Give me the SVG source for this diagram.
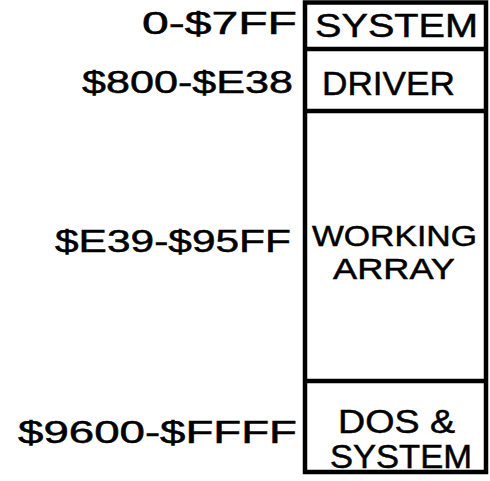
<svg xmlns="http://www.w3.org/2000/svg" width="490" height="481" viewBox="0 0 490 481">
<style>
.lbl{font-family:"Liberation Sans",Arial,sans-serif;font-size:31px;fill:#000;stroke:#000;stroke-width:0.5;text-anchor:end}
.box{font-family:"Liberation Sans",Arial,sans-serif;font-size:33px;fill:#000;stroke:#000;stroke-width:0.5}
.box2{font-size:30px}
.frame{fill:#fff;stroke:#000;stroke-width:4.5}
.sep{stroke:#000;stroke-width:4.5;fill:none}
</style>
<rect width="490" height="481" fill="#fff"/>
<g id="memory-frame">
<rect class="frame" x="305" y="2.5" width="181" height="469.5"/>
</g>
<g id="connectors">
<line class="sep" x1="305" y1="49" x2="486" y2="49"/>
<line class="sep" x1="305" y1="111" x2="486" y2="111"/>
<line class="sep" x1="305" y1="381" x2="486" y2="381"/>
</g>
<g id="node-system">
<text class="lbl" x="297" y="34" textLength="155" lengthAdjust="spacingAndGlyphs">0-$7FF</text>
<text class="box" x="315" y="37" textLength="163" lengthAdjust="spacingAndGlyphs">SYSTEM</text>
</g>
<g id="node-driver">
<text class="lbl" x="293" y="93" textLength="211" lengthAdjust="spacingAndGlyphs">$800-$E38</text>
<text class="box" x="322" y="95" textLength="133" lengthAdjust="spacingAndGlyphs">DRIVER</text>
</g>
<g id="node-working">
<text class="lbl" x="291" y="252" textLength="236" lengthAdjust="spacingAndGlyphs">$E39-$95FF</text>
<text class="box box2" x="312" y="246" textLength="165" lengthAdjust="spacingAndGlyphs">WORKING</text>
<text class="box box2" x="333" y="279" textLength="122" lengthAdjust="spacingAndGlyphs">ARRAY</text>
</g>
<g id="node-dos">
<text class="lbl" x="297" y="443" textLength="279" lengthAdjust="spacingAndGlyphs">$9600-$FFFF</text>
<text class="box" x="338" y="433" textLength="117" lengthAdjust="spacingAndGlyphs">DOS &amp;</text>
<text class="box" x="330" y="468" textLength="142" lengthAdjust="spacingAndGlyphs">SYSTEM</text>
</g>
</svg>
